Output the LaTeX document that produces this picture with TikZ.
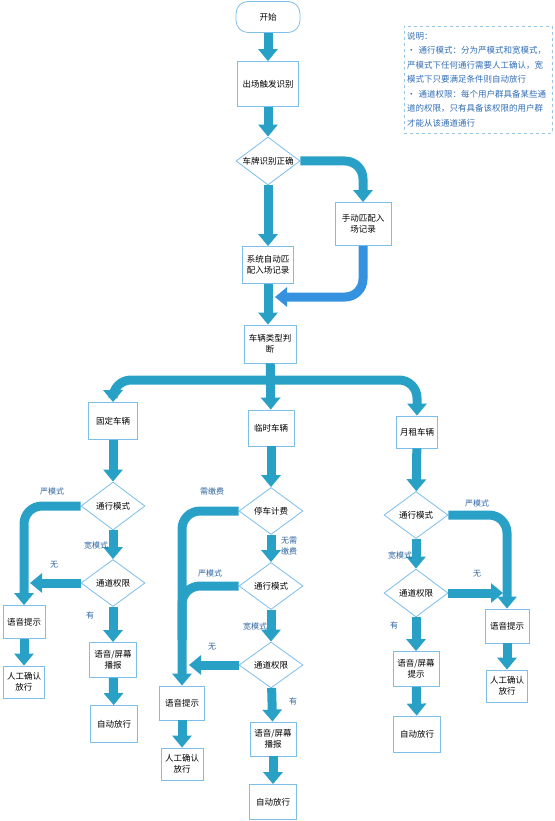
\documentclass[tikz,border=0pt]{standalone}
\usepackage{fontspec}
\setmainfont{Noto Sans CJK SC}
\usepackage{xcolor}
\usetikzlibrary{shapes.geometric,positioning,arrows.meta}

\definecolor{flowc}{RGB}{41,161,199}
\definecolor{backc}{RGB}{52,146,222}
\definecolor{edgec}{RGB}{125,190,235}
\definecolor{labc}{RGB}{46,100,160}
\definecolor{notec}{RGB}{150,200,230}
\definecolor{notetxt}{RGB}{50,110,180}

\begin{document}
\begin{tikzpicture}[x=1pt, y=-1pt, font=\fontsize{8.5}{11}\selectfont,
    box/.style={draw=edgec, line width=0.8pt, fill=white, align=center,
        minimum width=46pt, minimum height=35pt, inner sep=1pt},
    term/.style={box, rounded corners=12pt, minimum width=64pt, minimum height=31pt},
    dec/.style={diamond, draw=edgec, line width=0.8pt, fill=white, aspect=1.33,
        minimum width=64pt, minimum height=48pt, inner sep=0pt},
    flow/.style={draw=flowc, line width=9pt, rounded corners=18pt,
        -{Triangle[width=19pt,length=12pt]}},
    link/.style={flow, -},
    lab/.style={text=labc, font=\fontsize{8}{10.5}\selectfont, align=center},
    note/.style={draw=notec, dashed, text=notetxt, align=left, text width=142pt,
        minimum height=107pt, inner sep=3pt, font=\fontsize{8.5}{14.5}\selectfont}]

    \useasboundingbox (0,0) rectangle (554,821);

    % main column
    \node[term] (start) at (268,17) {开始};
    \node[box, minimum width=61pt, minimum height=45pt] (trig) at (268,84) {出场触发识别};
    \node[dec] (plate) at (268,161) {车牌识别正确};
    \node[box, minimum width=56pt, minimum height=43pt] (manual) at (363,224) {手动匹配入\\场记录};
    \node[box, minimum width=51pt, minimum height=37pt] (sysauto) at (268,265) {系统自动匹\\配入场记录};
    \node[box, minimum width=52pt, minimum height=38pt] (kind) at (270,344) {车辆类型判\\断};

    \coordinate (back) at (275,297);
    \coordinate (bar) at (270,380);

    % three vehicle types
    \node[box, minimum width=49pt, minimum height=37pt] (fixed) at (113,421) {固定车辆};
    \node[box, minimum height=36pt] (temp) at (271,428) {临时车辆};
    \node[box, minimum width=41pt, minimum height=32pt] (monthly) at (417,432) {月租车辆};

    % fixed
    \node[dec] (lmode) at (113,506) {通行模式};
    \node[dec, minimum height=47pt] (lperm) at (113,583) {通道权限};
    \node[box, minimum width=42pt, minimum height=33pt] (lvoice) at (24,622) {语音提示};
    \node[box, minimum width=41pt, minimum height=32pt] (lmanual) at (24,682) {人工确认\\放行};
    \node[box, minimum width=47pt] (lscreen) at (113,660) {语音/屏幕\\播报};
    \node[box, minimum width=47pt, minimum height=37pt] (lauto) at (114,724) {自动放行};
    \coordinate (lno) at (30,583);

    % temporary
    \node[dec, minimum height=47pt] (fee) at (271,511) {停车计费};
    \node[dec, minimum height=47pt] (mmode) at (271,586) {通行模式};
    \node[dec, minimum height=46pt] (mperm) at (271,665) {通道权限};
    \node[box, minimum width=45pt, minimum height=34pt] (mvoice) at (182,703) {语音提示};
    \node[box, minimum width=42pt, minimum height=32pt] (mmanual) at (182,764) {人工确认\\放行};
    \node[box, minimum height=34pt] (mscreen) at (273,739) {语音/屏幕\\播报};
    \node[box, minimum width=47pt] (mauto) at (273,802) {自动放行};
    \coordinate (mjoin) at (182,640);
    \coordinate (mno) at (189,665);

    % monthly
    \node[dec, minimum height=47pt] (rmode) at (416,515) {通行模式};
    \node[dec] (rperm) at (416,593) {通道权限};
    \node[box, minimum width=44pt, minimum height=34pt] (rvoice) at (507,626) {语音提示};
    \node[box, minimum width=41pt, minimum height=32pt] (rmanual) at (507,686) {人工确认\\放行};
    \node[box] (rscreen) at (416,669) {语音/屏幕\\提示};
    \node[box, minimum width=47pt, minimum height=36pt] (rauto) at (417,734) {自动放行};
    \coordinate (rno) at (503,593);

    % connectors
    \draw[flow] (start) -- (trig);
    \draw[flow] (trig) -- (plate);
    \draw[flow] (plate) -- (sysauto);
    \draw[flow] (plate.east) -| (manual);
    \draw[flow, draw=backc] (manual) |- (back);
    \draw[flow] (sysauto) -- (sysauto |- kind.north);
    \draw[flow] (kind) -- (temp);
    \draw[flow] (bar) -| (fixed);
    \draw[flow] (bar) -| (monthly);

    \draw[flow] (fixed) -- (lmode);
    \draw[flow] (lmode.west) -| (lvoice);
    \draw[flow] (lmode) -- (lperm);
    \draw[flow] (lperm.west) -- (lno);
    \draw[flow] (lperm) -- (lscreen);
    \draw[flow] (lscreen) -- (lauto);
    \draw[flow] (lvoice) -- (lmanual);

    \draw[flow] (temp) -- (fee);
    \draw[flow] (fee.west) -| (mvoice);
    \draw[flow] (fee) -- (mmode);
    \draw[link] (mmode.west) -| (mjoin);
    \draw[flow] (mmode) -- (mperm);
    \draw[flow] (mperm.west) -- (mno);
    \draw[flow] (mperm) -- (mscreen);
    \draw[flow] (mscreen) -- (mauto);
    \draw[flow] (mvoice) -- (mmanual);

    \draw[flow] (monthly) -- (rmode);
    \draw[flow] (rmode.east) -| (rvoice);
    \draw[flow] (rmode) -- (rperm);
    \draw[flow] (rperm.east) -- (rno);
    \draw[flow] (rperm) -- (rscreen);
    \draw[flow] (rscreen) -- (rauto);
    \draw[flow] (rvoice) -- (rmanual);

    % branch labels
    \node[lab] (lstrict) at (52,491) {严模式};
    \node[lab] (lloose) at (96,545) {宽模式};
    \node[lab] (lnone) at (54,565) {无};
    \node[lab] (lhave) at (90,615) {有};
    \node[lab] (mpay) at (212,491) {需缴费};
    \node[lab] (mfree) at (289,546) {无需\\缴费};
    \node[lab] (mstrict) at (210,573) {严模式};
    \node[lab] (mloose) at (255,626) {宽模式};
    \node[lab] (mnone) at (212,647) {无};
    \node[lab] (mhave) at (293,701) {有};
    \node[lab] (rstrict) at (477,503) {严模式};
    \node[lab] (rloose) at (400,555) {宽模式};
    \node[lab] (rnone) at (477,574) {无};
    \node[lab] (rhave) at (394,625) {有};

    \node[note, anchor=north west] (memo) at (404,26) {说明：\\
        •~通行模式：分为严模式和宽模式，\\
        严模式下任何通行需要人工确认，宽\\
        模式下只要满足条件则自动放行\\
        •~通道权限：每个用户群具备某些通\\
        道的权限，只有具备该权限的用户群\\
        才能从该通道通行};

\end{tikzpicture}
\end{document}
